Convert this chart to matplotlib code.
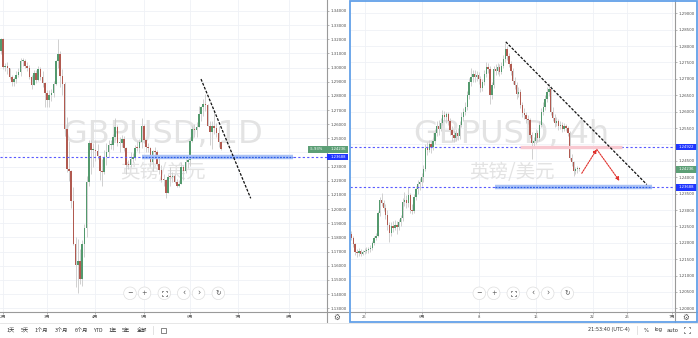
import numpy as np
import pandas as pd
import matplotlib
matplotlib.use("Agg")
import matplotlib.pyplot as plt
from matplotlib.patches import Rectangle, Circle

plt.rcParams['font.family'] = ['DejaVu Sans', 'Noto Sans CJK SC']
CJK = ['Noto Sans CJK SC', 'DejaVu Sans']

# ==========================================
# Data: GBPUSD daily (left) and 4h (right)
# ==========================================

d_first_day = '2020-01-31'
d_month_starts = ['2020-02-03', '2020-03-02', '2020-04-01', '2020-05-01',
                  '2020-06-01', '2020-07-01', '2020-08-03']
d_month_labels = ['2月', '3月', '4月', '5月', '6月', '7月', '8月']

d_open = [1.3115, 1.3204, 1.3003, 1.3013, 1.2997, 1.2935, 1.2896, 1.2917, 1.2946, 1.2969, 1.3045,
          1.3047, 1.3008, 1.2995, 1.2934, 1.2876, 1.2963, 1.2910, 1.2990, 1.2936, 1.2888,
          1.2824, 1.2774, 1.2809, 1.2817, 1.2883, 1.3047, 1.3093, 1.2942, 1.2885, 1.2563, 1.2280,
          1.2269, 1.2055, 1.1755, 1.1603, 1.1630, 1.1508, 1.1751, 1.1863, 1.2195, 1.2464, 1.2420,
          1.2420, 1.2409, 1.2378, 1.2266, 1.2263, 1.2365, 1.2407, 1.2451, 1.2454, 1.2510, 1.2578,
          1.2466, 1.2470, 1.2497, 1.2430, 1.2315, 1.2313, 1.2352, 1.2367, 1.2432, 1.2430, 1.2476,
          1.2590, 1.2491, 1.2438, 1.2432, 1.2333, 1.2409, 1.2405, 1.2321, 1.2273, 1.2208, 1.2206,
          1.2116, 1.2229, 1.2227, 1.2232, 1.2194, 1.2165, 1.2178, 1.2296, 1.2269, 1.2331,
          1.2345, 1.2484, 1.2565, 1.2561, 1.2580, 1.2670, 1.2725, 1.2746, 1.2738, 1.2586, 1.2548,
          1.2584, 1.2572, 1.2540, 1.2473]
d_high = [1.3206, 1.3211, 1.3036, 1.3040, 1.3000, 1.2945, 1.2934, 1.2975, 1.2995, 1.3068, 1.3069,
          1.3061, 1.3038, 1.3020, 1.2946, 1.2980, 1.2983, 1.3012, 1.3005, 1.2976, 1.2898,
          1.2842, 1.2845, 1.2850, 1.2905, 1.3056, 1.3200, 1.3115, 1.2988, 1.2897, 1.2650, 1.2484,
          1.2277, 1.2157, 1.1800, 1.1792, 1.1720, 1.1785, 1.1897, 1.2237, 1.2486, 1.2485, 1.2468,
          1.2485, 1.2462, 1.2385, 1.2354, 1.2415, 1.2470, 1.2488, 1.2485, 1.2528, 1.2647, 1.2593,
          1.2508, 1.2525, 1.2520, 1.2440, 1.2347, 1.2405, 1.2397, 1.2455, 1.2484, 1.2495, 1.2647,
          1.2602, 1.2497, 1.2470, 1.2441, 1.2418, 1.2440, 1.2417, 1.2376, 1.2309, 1.2248, 1.2215,
          1.2247, 1.2296, 1.2262, 1.2250, 1.2211, 1.2205, 1.2333, 1.2310, 1.2356, 1.2373,
          1.2508, 1.2590, 1.2600, 1.2618, 1.2728, 1.2730, 1.2780, 1.2813, 1.2745, 1.2620, 1.2623,
          1.2688, 1.2606, 1.2586, 1.2478]
d_low = [1.3094, 1.2990, 1.2975, 1.2952, 1.2920, 1.2870, 1.2873, 1.2888, 1.2934, 1.2938, 1.3010,
         1.2995, 1.2976, 1.2922, 1.2850, 1.2874, 1.2892, 1.2905, 1.2910, 1.2865, 1.2725,
         1.2725, 1.2725, 1.2767, 1.2793, 1.2876, 1.3000, 1.2866, 1.2807, 1.2520, 1.2260, 1.2196,
         1.2008, 1.1743, 1.1451, 1.1409, 1.1473, 1.1456, 1.1662, 1.1806, 1.2162, 1.2245, 1.2300,
         1.2340, 1.2355, 1.2205, 1.2166, 1.2250, 1.2315, 1.2367, 1.2425, 1.2416, 1.2490, 1.2446,
         1.2404, 1.2436, 1.2410, 1.2247, 1.2285, 1.2300, 1.2332, 1.2350, 1.2410, 1.2395, 1.2430,
         1.2465, 1.2403, 1.2400, 1.2305, 1.2266, 1.2375, 1.2305, 1.2248, 1.2188, 1.2164, 1.2076,
         1.2111, 1.2163, 1.2189, 1.2182, 1.2155, 1.2157, 1.2175, 1.2203, 1.2252, 1.2288,
         1.2303, 1.2474, 1.2508, 1.2513, 1.2577, 1.2624, 1.2660, 1.2690, 1.2586, 1.2454, 1.2422,
         1.2528, 1.2508, 1.2440, 1.2415]
d_close = [1.3204, 1.3003, 1.3013, 1.2997, 1.2935, 1.2896, 1.2917, 1.2946, 1.2969, 1.3045, 1.3047,
           1.3008, 1.2995, 1.2934, 1.2876, 1.2963, 1.2910, 1.2990, 1.2936, 1.2888, 1.2824,
           1.2774, 1.2809, 1.2817, 1.2883, 1.3047, 1.3093, 1.2942, 1.2885, 1.2563, 1.2280, 1.2269,
           1.2055, 1.1755, 1.1603, 1.1630, 1.1508, 1.1751, 1.1863, 1.2195, 1.2464, 1.2420, 1.2420,
           1.2409, 1.2378, 1.2266, 1.2263, 1.2365, 1.2407, 1.2451, 1.2454, 1.2510, 1.2578, 1.2466,
           1.2470, 1.2497, 1.2430, 1.2315, 1.2313, 1.2352, 1.2367, 1.2432, 1.2430, 1.2476, 1.2590,
           1.2491, 1.2438, 1.2432, 1.2333, 1.2409, 1.2405, 1.2321, 1.2273, 1.2208, 1.2206, 1.2116,
           1.2229, 1.2227, 1.2232, 1.2194, 1.2165, 1.2178, 1.2296, 1.2269, 1.2331, 1.2345,
           1.2484, 1.2565, 1.2561, 1.2580, 1.2670, 1.2725, 1.2746, 1.2738, 1.2586, 1.2548, 1.2584,
           1.2572, 1.2540, 1.2473, 1.2424]

h_first_bar = '2020-05-21 21:00'
h_tick_dates = ['2020-05-25', '2020-06-01', '2020-06-08', '2020-06-15',
                '2020-06-22', '2020-06-25', '2020-07-01']
h_tick_labels = ['25', '6月', '8', '15', '22', '25', '7月']

h_open = [1.2228, 1.2215, 1.2195, 1.2172, 1.2168, 1.2176, 1.2166, 1.2172, 1.2175, 1.2178,
          1.2180, 1.2183, 1.2198, 1.2215, 1.2222, 1.2290, 1.2330, 1.2320, 1.2305, 1.2285,
          1.2255, 1.2230, 1.2250, 1.2245, 1.2255, 1.2248, 1.2262, 1.2275, 1.2325, 1.2330,
          1.2320, 1.2345, 1.2300, 1.2296, 1.2340, 1.2365, 1.2378, 1.2385, 1.2400, 1.2425,
          1.2490, 1.2484, 1.2500, 1.2492, 1.2510, 1.2535, 1.2555, 1.2548, 1.2565, 1.2590,
          1.2585, 1.2592, 1.2570, 1.2545, 1.2530, 1.2520, 1.2535, 1.2525, 1.2560, 1.2585,
          1.2600, 1.2615, 1.2650, 1.2690, 1.2705, 1.2715, 1.2705, 1.2712, 1.2700, 1.2672,
          1.2690, 1.2715, 1.2735, 1.2730, 1.2650, 1.2680, 1.2730, 1.2725, 1.2735, 1.2722,
          1.2740, 1.2760, 1.2790, 1.2770, 1.2745, 1.2725, 1.2695, 1.2680, 1.2655, 1.2660,
          1.2620, 1.2595, 1.2590, 1.2578, 1.2575, 1.2530, 1.2505, 1.2510, 1.2535, 1.2520,
          1.2560, 1.2600, 1.2615, 1.2640, 1.2660, 1.2670, 1.2600, 1.2580, 1.2565, 1.2570,
          1.2555, 1.2560, 1.2548, 1.2555, 1.2550, 1.2535, 1.2460, 1.2445, 1.2418, 1.2425,
          1.2428]
h_high = [1.2236, 1.2222, 1.2200, 1.2180, 1.2185, 1.2182, 1.2178, 1.2183, 1.2186, 1.2188,
          1.2192, 1.2205, 1.2222, 1.2230, 1.2298, 1.2340, 1.2352, 1.2332, 1.2318, 1.2300,
          1.2262, 1.2262, 1.2268, 1.2270, 1.2265, 1.2272, 1.2285, 1.2338, 1.2356, 1.2345,
          1.2370, 1.2352, 1.2318, 1.2350, 1.2372, 1.2392, 1.2398, 1.2412, 1.2438, 1.2500,
          1.2508, 1.2515, 1.2512, 1.2522, 1.2548, 1.2572, 1.2576, 1.2582, 1.2605, 1.2602,
          1.2600, 1.2598, 1.2580, 1.2556, 1.2545, 1.2548, 1.2550, 1.2572, 1.2598, 1.2612,
          1.2628, 1.2662, 1.2702, 1.2732, 1.2728, 1.2726, 1.2724, 1.2720, 1.2708, 1.2700,
          1.2728, 1.2752, 1.2748, 1.2738, 1.2690, 1.2740, 1.2745, 1.2748, 1.2744, 1.2752,
          1.2772, 1.2810, 1.2800, 1.2780, 1.2755, 1.2732, 1.2705, 1.2690, 1.2675, 1.2668,
          1.2628, 1.2612, 1.2600, 1.2590, 1.2582, 1.2538, 1.2522, 1.2548, 1.2545, 1.2572,
          1.2612, 1.2628, 1.2652, 1.2675, 1.2688, 1.2678, 1.2615, 1.2592, 1.2585, 1.2578,
          1.2572, 1.2568, 1.2565, 1.2562, 1.2556, 1.2540, 1.2470, 1.2450, 1.2432, 1.2435,
          1.2432]
h_low = [1.2208, 1.2188, 1.2163, 1.2158, 1.2160, 1.2160, 1.2162, 1.2166, 1.2168, 1.2170,
         1.2172, 1.2178, 1.2192, 1.2208, 1.2218, 1.2282, 1.2312, 1.2296, 1.2272, 1.2240,
         1.2203, 1.2222, 1.2232, 1.2238, 1.2226, 1.2240, 1.2252, 1.2268, 1.2312, 1.2305,
         1.2310, 1.2292, 1.2288, 1.2290, 1.2332, 1.2348, 1.2360, 1.2372, 1.2385, 1.2418,
         1.2468, 1.2476, 1.2474, 1.2484, 1.2502, 1.2526, 1.2530, 1.2540, 1.2558, 1.2570,
         1.2566, 1.2558, 1.2530, 1.2512, 1.2508, 1.2512, 1.2515, 1.2518, 1.2552, 1.2570,
         1.2590, 1.2605, 1.2640, 1.2678, 1.2690, 1.2690, 1.2692, 1.2685, 1.2660, 1.2664,
         1.2682, 1.2705, 1.2718, 1.2622, 1.2640, 1.2672, 1.2712, 1.2715, 1.2708, 1.2715,
         1.2732, 1.2750, 1.2758, 1.2735, 1.2712, 1.2685, 1.2668, 1.2640, 1.2645, 1.2610,
         1.2585, 1.2578, 1.2565, 1.2562, 1.2520, 1.2455, 1.2490, 1.2500, 1.2508, 1.2512,
         1.2552, 1.2590, 1.2605, 1.2630, 1.2648, 1.2590, 1.2570, 1.2552, 1.2556, 1.2545,
         1.2548, 1.2538, 1.2540, 1.2540, 1.2525, 1.2452, 1.2435, 1.2403, 1.2410, 1.2414,
         1.2418]
h_close = [1.2215, 1.2195, 1.2172, 1.2168, 1.2176, 1.2166, 1.2172, 1.2175, 1.2178, 1.2180,
           1.2183, 1.2198, 1.2215, 1.2222, 1.2290, 1.2330, 1.2320, 1.2305, 1.2285, 1.2255,
           1.2230, 1.2250, 1.2245, 1.2255, 1.2248, 1.2262, 1.2275, 1.2325, 1.2330, 1.2320,
           1.2345, 1.2300, 1.2296, 1.2340, 1.2365, 1.2378, 1.2385, 1.2400, 1.2425, 1.2490,
           1.2484, 1.2500, 1.2492, 1.2510, 1.2535, 1.2555, 1.2548, 1.2565, 1.2590, 1.2585,
           1.2592, 1.2570, 1.2545, 1.2530, 1.2520, 1.2535, 1.2525, 1.2560, 1.2585, 1.2600,
           1.2615, 1.2650, 1.2690, 1.2705, 1.2715, 1.2705, 1.2712, 1.2700, 1.2672, 1.2690,
           1.2715, 1.2735, 1.2730, 1.2650, 1.2680, 1.2730, 1.2725, 1.2735, 1.2722, 1.2740,
           1.2760, 1.2790, 1.2770, 1.2745, 1.2725, 1.2695, 1.2680, 1.2655, 1.2660, 1.2620,
           1.2595, 1.2590, 1.2578, 1.2575, 1.2530, 1.2505, 1.2510, 1.2535, 1.2520, 1.2560,
           1.2600, 1.2615, 1.2640, 1.2660, 1.2670, 1.2600, 1.2580, 1.2565, 1.2570, 1.2555,
           1.2560, 1.2548, 1.2555, 1.2550, 1.2535, 1.2460, 1.2445, 1.2418, 1.2425, 1.2428,
           1.2424]

last_price = 1.24236
change_pct = '-5.93%'
support = 1.23688
resist = 1.24922

# user drawings (bar index, price)
d_trend_x, d_trend_y = [91.0, 113.6], [1.2919, 1.2076]
d_support_x = [64.2, 132.8]
h_trend_x, h_trend_y = [81.3, 155.5], [1.2813, 1.2378]
h_support_x = [75.6, 158.3]
h_resist_x = [88.8, 142.5]
h_path_x, h_path_y = [121.3, 129.2, 141.1], [1.2412, 1.2485, 1.2389]

# ==========================================
# Helpers
# ==========================================

W, H = 698, 338
PLOT_H = 312
L_YLIM = (1.12728, 1.34777)
R_YLIM = (1.19889, 1.29406)
RED, GREEN, WICK = '#b15a50', '#53996d', '#d0d0d0'
TAG_BLUE, TAG_GREEN = '#1f35ff', '#5c9f76'
DOT_BLUE = '#5a5aff'


def frect(x, y, w, h):
    return [x / W, 1 - (y + h) / H, w / W, h / H]


def fx_4h_bars(start, count):
    t = pd.Timestamp(start)
    bars = []
    while len(bars) < count:
        wd = t.weekday()
        closed = (wd == 4 and t.hour >= 17) or wd == 5 or (wd == 6 and t.hour < 17)
        if not closed:
            bars.append(t)
        t += pd.Timedelta(hours=4)
    return bars


def draw_candles(ax, o, h, l, c, min_body):
    o, h, l, c = (np.asarray(v) for v in (o, h, l, c))
    x = np.arange(len(c))
    up = c >= o
    ax.vlines(x, l, h, color=WICK, lw=0.7, zorder=2)
    body = np.maximum(np.abs(c - o), min_body)
    ax.bar(x[up], body[up], 0.72, bottom=o[up], color=GREEN, lw=0, zorder=3)
    ax.bar(x[~up], body[~up], 0.72, bottom=c[~up], color=RED, lw=0, zorder=3)


def style_axes(ax, xlim, ylim, yticks, hidden, xticks, xlabels):
    ax.set_xlim(*xlim)
    ax.set_ylim(*ylim)
    ax.set_yticks(yticks)
    ax.set_yticklabels(['' if round(t, 4) in hidden else f'{t:.5f}' for t in yticks])
    ax.set_xticks(xticks)
    ax.set_xticklabels(xlabels, fontfamily=CJK)
    ax.yaxis.tick_right()
    ax.tick_params(axis='y', length=1.4, width=0.5, color='#9a9a9a', labelsize=2.8,
                   labelcolor='#4d4d4d', pad=0.9)
    ax.tick_params(axis='x', length=1.4, width=0.5, color='#9a9a9a', labelsize=3.0,
                   labelcolor='#4d4d4d', pad=1.0)
    for s in ax.spines.values():
        s.set_visible(False)
    ax.grid(True, color='#eff1f6', lw=0.6)
    ax.set_axisbelow(True)


def watermark(ax, title):
    ax.text(0.498, 0.5417, title, transform=ax.transAxes, fontsize=23, color='#e3e3e3',
            ha='center', va='baseline', zorder=1)
    ax.text(0.498, 0.428, '英镑/美元', transform=ax.transAxes, fontsize=14, color='#e3e3e3',
            ha='center', va='baseline', fontfamily=CJK, zorder=1)


def level_band(ax, xs, y, band, core, lw=3.2):
    ax.plot(xs, [y, y], color=band, lw=lw, solid_capstyle='butt', zorder=4)
    if core:
        ax.plot(xs, [y, y], color=core, lw=0.9, ls=(0, (1.5, 1)), zorder=4)


# ==========================================
# Figure
# ==========================================

fig = plt.figure(figsize=(W / 100, H / 100), dpi=100)
fig.patch.set_facecolor('white')

ax1 = fig.add_axes(frect(0, 0, 327, PLOT_H))
ax2 = fig.add_axes(frect(350, 0, 325, PLOT_H))

# --- daily chart ---
all_days = pd.bdate_range(d_first_day, '2020-08-31')
d_ticks = [all_days.get_loc(pd.Timestamp(d)) for d in d_month_starts]
draw_candles(ax1, d_open, d_high, d_low, d_close, 0.0007)
style_axes(ax1, (-0.36, 148.27), L_YLIM, np.round(np.arange(1.13, 1.3401, 0.01), 2),
           {1.24}, d_ticks, d_month_labels)
watermark(ax1, 'GBPUSD, 1D')
ax1.axhline(support, color=DOT_BLUE, lw=0.8, ls=(0, (2, 2)), zorder=4)
level_band(ax1, d_support_x, support, '#aac2f6', '#2f5ee8')
ax1.plot(d_trend_x, d_trend_y, color='#111111', lw=0.9, ls=(0, (2.2, 1.2)), zorder=5)

# --- 4h chart ---
bars = fx_4h_bars(h_first_bar, 220)
h_ticks = [bars.index(pd.Timestamp(d) + pd.Timedelta(hours=1)) for d in h_tick_dates]
draw_candles(ax2, h_open, h_high, h_low, h_close, 0.0003)
style_axes(ax2, (-0.68, 170.37), R_YLIM, np.round(np.arange(1.20, 1.2901, 0.005), 3),
           {1.25}, h_ticks, h_tick_labels)
watermark(ax2, 'GBPUSD, 4h')
ax2.axhline(resist, color=DOT_BLUE, lw=0.8, ls=(0, (2, 2)), zorder=4)
ax2.axhline(support, color=DOT_BLUE, lw=0.8, ls=(0, (2, 2)), zorder=4)
level_band(ax2, h_resist_x, resist, '#f8c8d0', None, lw=2.4)
level_band(ax2, h_support_x, support, '#aac2f6', '#2f5ee8')
ax2.plot(h_trend_x, h_trend_y, color='#111111', lw=0.9, ls=(0, (2.2, 1.2)), zorder=5)
for i in range(2):
    ax2.annotate('', xy=(h_path_x[i + 1], h_path_y[i + 1]), xytext=(h_path_x[i], h_path_y[i]),
                 arrowprops=dict(arrowstyle='-|>', color='#e0302c', lw=0.8, ls=(0, (1.5, 1)),
                                 mutation_scale=5, shrinkA=0, shrinkB=0), zorder=6)

# ==========================================
# UI overlay (pixel coordinates)
# ==========================================

ui = fig.add_axes([0, 0, 1, 1])
ui.set_xlim(0, W)
ui.set_ylim(H, 0)
ui.axis('off')
ui.set_zorder(5)


def py(p, ylim):
    return (ylim[1] - p) / (ylim[1] - ylim[0]) * PLOT_H


def tag(x0, w, yc, text, color):
    ui.add_patch(Rectangle((x0, yc - 3.4), w, 6.8, facecolor=color, edgecolor='none', zorder=6))
    ui.text(x0 + w / 2, yc, text, color='white', fontsize=2.7, ha='center', va='center', zorder=7)


line_c = '#9a9a9a'
ui.plot([327, 327], [0, 322], color=line_c, lw=0.8)
ui.plot([0, 348], [312, 312], color=line_c, lw=0.8)
ui.plot([675, 675], [0, 322], color=line_c, lw=0.8)
ui.plot([350, 697], [312, 312], color=line_c, lw=0.8)
ui.plot([0, W], [322.5, 322.5], color='#e3e3e3', lw=0.6)

# price tags
tag(307.5, 19, py(last_price, L_YLIM), change_pct, TAG_GREEN)
tag(327.3, 21, py(last_price, L_YLIM), f'{last_price:.5f}', TAG_GREEN)
tag(327.3, 21, py(support, L_YLIM), f'{support:.5f}', TAG_BLUE)
tag(675.5, 21, py(resist, R_YLIM), f'{resist:.5f}', TAG_BLUE)
tag(675.5, 21, py(last_price, R_YLIM), f'{last_price:.5f}', TAG_GREEN)
tag(675.5, 21, py(support, R_YLIM), f'{support:.5f}', TAG_BLUE)

# right panel selection border
ui.add_patch(Rectangle((349.5, 0.5), 347.3, 321.5, fill=False, edgecolor='#62a0e8', lw=1.3, zorder=8))


def corners(x, y, r=2.6, c='#555555'):
    for sx in (-1, 1):
        for sy in (-1, 1):
            ui.plot([x + sx * r, x + sx * r, x + sx * (r - 1.4)],
                    [y + sy * (r - 1.4), y + sy * r, y + sy * r], color=c, lw=0.5, zorder=7)


def nav_buttons(xs, y):
    syms = ['−', '+', None, '‹', '›', '↻']
    for x, s in zip(xs, syms):
        ui.add_patch(Circle((x, y), 6.3, facecolor='white', edgecolor='#dedede', lw=0.5, zorder=6))
        if s is None:
            corners(x, y)
        else:
            ui.text(x, y, s, fontsize=5.5 if s in '‹›' else 4.8, color='#555555',
                    ha='center', va='center', zorder=7)


nav_buttons([130, 144.5, 164.3, 183.7, 198.5, 218.3], 293.3)
nav_buttons([479.3, 493.7, 513.3, 533.0, 547.7, 567.3], 293.3)

ui.text(337, 317, '⚙', fontsize=5.5, color='#555555', ha='center', va='center')
ui.text(686, 317, '⚙', fontsize=5.5, color='#555555', ha='center', va='center')

# bottom toolbar
tb_text = ['1天', '5天', '1个月', '3个月', '6个月', 'YTD', '1年', '5年', '全部']
tb_x = [10.7, 25, 41.7, 61.7, 81, 97.7, 112.7, 126, 141.7]
for x, t in zip(tb_x, tb_text):
    ui.text(x, 330, t, fontsize=3.8, color='#333333', ha='center', va='center', fontfamily=CJK)
ui.plot([153, 153], [326, 334], color='#dddddd', lw=0.6)
ui.add_patch(Rectangle((160.5, 327.5), 5, 5, fill=False, edgecolor='#555555', lw=0.5))
ui.text(608.5, 330, '21:53:40 (UTC-4)', fontsize=3.5, color='#333333', ha='center', va='center')
ui.plot([637, 637], [326, 334], color='#dddddd', lw=0.6)
ui.text(646, 330, '%', fontsize=3.8, color='#333333', ha='center', va='center')
ui.text(658.5, 330, 'log', fontsize=3.8, color='#333333', ha='center', va='center')
ui.text(673, 330, 'auto', fontsize=3.8, color='#333333', ha='center', va='center')
corners(687, 330, r=3.0)

fig.savefig('out.png', dpi=100, facecolor='white')
